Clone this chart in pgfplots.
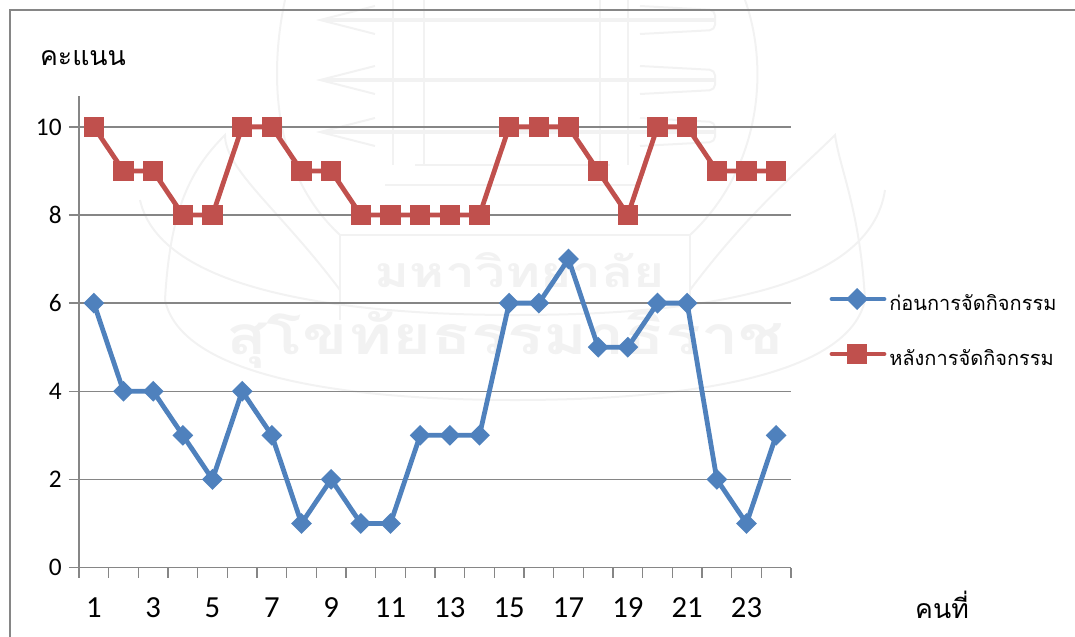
\documentclass[border=0pt]{standalone}
\usepackage{pgfplots}
\pgfplotsset{compat=1.18}
\usepackage{fontspec}
\setmainfont{Carlito}
\newfontfamily\thaifont[Script=Thai]{Loma}
\definecolor{myblue}{HTML}{4F81BD}
\definecolor{myred}{HTML}{C0504D}
\definecolor{mygray}{HTML}{868686}
\definecolor{wm}{HTML}{F2F2F2}
\pgfdeclareplotmark{mydiamond}{%
  \pgfpathmoveto{\pgfqpoint{0pt}{\pgfplotmarksize}}%
  \pgfpathlineto{\pgfqpoint{\pgfplotmarksize}{0pt}}%
  \pgfpathlineto{\pgfqpoint{0pt}{-\pgfplotmarksize}}%
  \pgfpathlineto{\pgfqpoint{-\pgfplotmarksize}{0pt}}%
  \pgfpathclose\pgfusepathqfill}
\pgfdeclareplotmark{mysquare}{%
  \pgfpathrectangle{\pgfqpoint{-\pgfplotmarksize}{-\pgfplotmarksize}}{\pgfqpoint{2\pgfplotmarksize}{2\pgfplotmarksize}}%
  \pgfusepathqfill}
\begin{document}
\begin{tikzpicture}[x=0.75pt,y=-0.75pt]
\useasboundingbox (0,0) rectangle (1075,636);
% watermark
\begin{scope}[wm,line width=1.5pt]
\foreach \yy in {20,80,132}{
  \draw[line width=3pt] (325,\yy) -- (715,\yy);
  \draw (375,\yy-14) -- (320,\yy) -- (375,\yy+14);
  \draw[rounded corners=4pt] (640,\yy-14) -- (715,\yy-10) -- (715,\yy+10) -- (640,\yy+14);
}
\foreach \xx in {393,424,600,628}{\draw (\xx,0) -- (\xx,165);}
\draw (415,165) -- (610,165);
\draw (385,185) -- (640,185);
\draw (340,235) -- (690,235) -- (690,320);
\draw (340,235) -- (340,320);
\draw (285,0) .. controls (270,70) and (270,170) .. (340,235);
\draw (745,0) .. controls (770,70) and (760,170) .. (690,235);
\draw (165,300) .. controls (170,210) and (190,170) .. (225,135) .. controls (225,170) and (280,210) .. (340,290);
\draw (865,300) .. controls (860,210) and (840,170) .. (835,135) .. controls (800,170) and (750,210) .. (690,290);
\draw (165,300) .. controls (180,370) and (320,400) .. (515,400) .. controls (710,400) and (850,370) .. (865,300);
\draw (140,200) .. controls (160,290) and (340,315) .. (515,315) .. controls (700,315) and (870,290) .. (885,190);
\node[text=wm,inner sep=0] at (520,270) {\scalebox{1.25}[1]{\thaifont\bfseries\fontsize{32}{32}\selectfont มหาวิทยาลัย}};
\node[text=wm,inner sep=0] at (505,340) {\scalebox{1.25}[1]{\thaifont\bfseries\fontsize{40}{40}\selectfont สุโขทัยธรรมาธิราช}};
\end{scope}
\draw[mygray,line width=1.4pt] (10,640) -- (10,10) -- (1080,10);
\begin{axis}[
  at={(59.25pt,-425.625pt)},anchor=south west,
  width=534pt,height=353.6pt,scale only axis,
  xmin=0.5,xmax=24.5,ymin=0,ymax=10.7,
  axis y line=left,axis x line=bottom,
  axis line style={mygray,line width=1.1pt,-},
  xtick={0.5,1.5,...,24.5},
  xticklabels={},
  extra x ticks={1,3,...,23},
  extra x tick labels={1,3,5,7,9,11,13,15,17,19,21,23},
  extra x tick style={major tick length=0pt,ticklabel style={font=\fontsize{23}{23}\selectfont,yshift=-19pt},grid=none},
  ytick={0,2,...,10},
  ymajorgrids,
  grid style={mygray,line width=1.1pt},
  tick style={mygray,line width=1.1pt},
  major tick length=7.5pt,
  tick align=outside,
  yticklabel style={font=\fontsize{19}{19}\selectfont,xshift=-2pt},
  /pgf/number format/assume math mode=true,
  clip=false,
]
\addplot[myblue,line width=3.6pt,mark=mydiamond,mark size=7.8pt,mark options={solid}] coordinates {
(1,6)(2,4)(3,4)(4,3)(5,2)(6,4)(7,3)(8,1)(9,2)(10,1)(11,1)(12,3)(13,3)(14,3)(15,6)(16,6)(17,7)(18,5)(19,5)(20,6)(21,6)(22,2)(23,1)(24,3)};
\addplot[myred,line width=3.6pt,mark=mysquare,mark size=7.6pt,mark options={solid}] coordinates {
(1,10)(2,9)(3,9)(4,8)(5,8)(6,10)(7,10)(8,9)(9,9)(10,8)(11,8)(12,8)(13,8)(14,8)(15,10)(16,10)(17,10)(18,9)(19,8)(20,10)(21,10)(22,9)(23,9)(24,9)};
\end{axis}
\node[anchor=center] at (83,58) {\thaifont\fontsize{20}{20}\selectfont คะแนน};
\node[anchor=center] at (942,605) {\thaifont\fontsize{20}{20}\selectfont คนที่};
\draw[myblue,line width=3.6pt,line cap=round] (832,299) -- (884,299);
\fill[myblue] (857,288) -- (868,299) -- (857,310) -- (846,299) -- cycle;
\draw[myred,line width=3.6pt,line cap=round] (832,354) -- (884,354);
\fill[myred] (847,344) rectangle (867,364);
\node[anchor=west,inner sep=0] at (889,303) {\thaifont\fontsize{15}{15}\selectfont ก่อนการจัดกิจกรรม};
\node[anchor=west,inner sep=0] at (889,358) {\thaifont\fontsize{15}{15}\selectfont หลังการจัดกิจกรรม};
\end{tikzpicture}
\end{document}
